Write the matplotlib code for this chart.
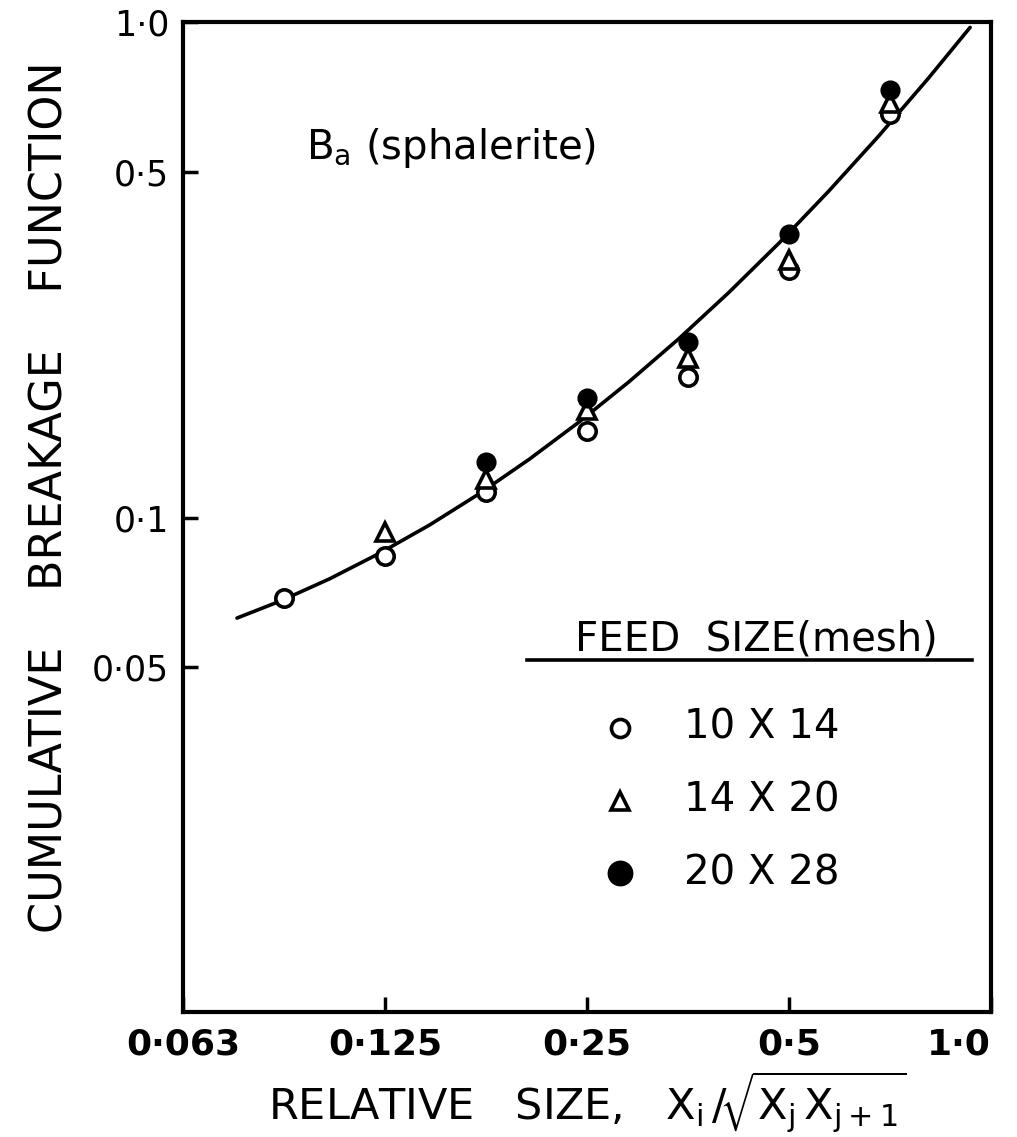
import matplotlib
matplotlib.use("Agg")
import matplotlib.pyplot as plt
from matplotlib.ticker import FixedLocator, FixedFormatter, NullLocator

plt.rcParams['font.family'] = 'DejaVu Sans'
plt.rcParams['mathtext.default'] = 'regular'

# relative size of each sieve interval (sqrt(2) series)
size_10x14 = [0.0884, 0.125, 0.177, 0.25, 0.354, 0.5, 0.707]
B_10x14 = [0.069, 0.084, 0.113, 0.150, 0.193, 0.316, 0.655]

size_14x20 = [0.125, 0.177, 0.25, 0.354, 0.5, 0.707]
B_14x20 = [0.094, 0.120, 0.165, 0.210, 0.331, 0.687]

size_20x28 = [0.177, 0.25, 0.354, 0.5, 0.707]
B_20x28 = [0.130, 0.175, 0.227, 0.374, 0.730]

# hand drawn curve
curve_x = [0.0752, 0.0871, 0.1034, 0.1227, 0.1456, 0.1728, 0.2050, 0.2432,
           0.2886, 0.3426, 0.4065, 0.4824, 0.5724, 0.6793, 0.8061, 0.9306]
curve_y = [0.0629, 0.0680, 0.0755, 0.0850, 0.0969, 0.1121, 0.1315, 0.1563,
           0.1884, 0.2302, 0.2852, 0.3582, 0.4562, 0.5890, 0.7709, 0.9770]

xticks = [0.0625, 0.125, 0.25, 0.5, 1.0]
xticklabels = ['0·063', '0·125', '0·25', '0·5', '1·0']
yticks = [0.05, 0.1, 0.5, 1.0]
yticklabels = ['0·05', '0·1', '0·5', '1·0']

fig = plt.figure(figsize=(10.17, 11.37), dpi=100)
ax = fig.add_axes([0.18, 0.110, 0.7945, 0.8703])
ax.set_xscale('log', base=2)
ax.set_yscale('log')
ax.set_xlim(0.0625, 1.0)
ax.set_ylim(0.0101, 1.0)

ax.plot(curve_x, curve_y, 'k-', lw=2.6, solid_capstyle='round')
ax.plot(size_10x14, B_10x14, 'o', ms=12.5, mfc='white', mec='black', mew=2.6, ls='none', zorder=3)
ax.plot(size_14x20, B_14x20, '^', ms=12.5, mfc='white', mec='black', mew=2.6, ls='none', zorder=3)
ax.plot(size_20x28, B_20x28, 'o', ms=13.5, mfc='black', mec='black', ls='none', zorder=4)

for s in ax.spines.values():
    s.set_linewidth(3.0)

ax.xaxis.set_major_locator(FixedLocator(xticks))
ax.xaxis.set_major_formatter(FixedFormatter(xticklabels))
ax.yaxis.set_major_locator(FixedLocator(yticks))
ax.yaxis.set_major_formatter(FixedFormatter(yticklabels))
ax.xaxis.set_minor_locator(NullLocator())
ax.yaxis.set_minor_locator(NullLocator())
ax.tick_params(direction='in', length=11, width=2.5, pad=10)
ax.tick_params(axis='x', labelsize=26, pad=11)
ax.tick_params(axis='y', labelsize=25)
for lab in ax.get_xticklabels():
    lab.set_fontweight('bold')
    lab.set_family(['Liberation Sans Narrow', 'DejaVu Sans'])
# last label sits a bit left of its tick, as in the original
ax.get_xticklabels()[-1].set_horizontalalignment('right')

ax.set_xlabel(r'RELATIVE   SIZE,   $X_i\,/\!\sqrt{X_j\,X_{j+1}}$', fontsize=31, labelpad=6)
fig.text(0.049, 0.563, 'CUMULATIVE    BREAKAGE    FUNCTION', rotation=90,
         fontsize=32, ha='center', va='center')

ax.text(0.152, 0.862, r'B$_{a}$ (sphalerite)', transform=ax.transAxes, fontsize=29)

# legend drawn by hand
ax.text(0.709, 0.376, 'FEED  SIZE(mesh)', transform=ax.transAxes, fontsize=29,
        ha='center', va='center')
ax.plot([0.426, 0.976], [0.356, 0.356], 'k-', lw=2.6, transform=ax.transAxes)
leg_rows = [('o', 'white', '10 X 14'), ('^', 'white', '14 X 20'), ('o', 'black', '20 X 28')]
for i, (m, fc, lab) in enumerate(leg_rows):
    yy = 0.287 - i * 0.0735
    ax.plot([0.541], [yy], m, ms=13 if fc == 'white' else 16, mfc=fc, mec='black',
            mew=2.6, transform=ax.transAxes, clip_on=False)
    ax.text(0.62, yy, lab, transform=ax.transAxes, fontsize=29, va='center')

fig.savefig('out.png', dpi=100)
